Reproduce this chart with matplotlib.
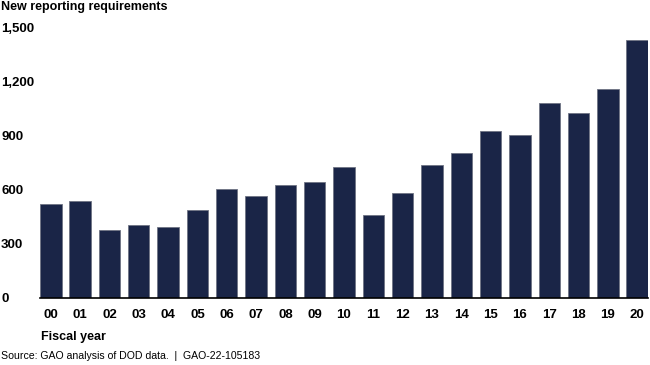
import numpy as np
import matplotlib
matplotlib.use('Agg')
import matplotlib.pyplot as plt

plt.rcParams['font.family'] = ['Liberation Sans', 'DejaVu Sans']

# fiscal years and new reporting requirements
years = ['00', '01', '02', '03', '04', '05', '06', '07', '08', '09', '10',
         '11', '12', '13', '14', '15', '16', '17', '18', '19', '20']
requirements = [520, 539, 378, 407, 393, 489, 604, 565, 626, 643, 726,
                463, 585, 737, 804, 926, 907, 1085, 1026, 1159, 1435]
yticks = [0, 300, 600, 900, 1200, 1500]

fig = plt.figure(figsize=(6.5, 3.65), dpi=100)
ax = fig.add_axes([40/650, 67/365, 608/650, 270/365])

x = np.arange(len(years))
ax.bar(x, requirements, width=0.73, color='#1a2547', edgecolor='#6f7484', linewidth=0.6)

ax.set_xlim(-0.37, 20.37)
ax.set_ylim(0, 1500)
ax.set_xticks(x)
ax.set_xticklabels(years, fontsize=9.5, fontweight='bold')
ax.set_yticks(yticks)
ax.set_yticklabels([f'{v:,}' for v in yticks], fontsize=9.5, fontweight='bold', ha='left')
ax.tick_params(axis='y', length=0, pad=28)
ax.tick_params(axis='x', length=0, pad=8)

for s in ['top', 'right', 'left']:
    ax.spines[s].set_visible(False)
ax.spines['bottom'].set_linewidth(1.2)
ax.spines['bottom'].set_color('black')

fig.text(1/650, 1 - 7/365, 'New reporting requirements', fontsize=9, fontweight='bold', va='center', ha='left')
fig.text(41/650, 1 - 337/365, 'Fiscal year', fontsize=9, fontweight='bold', va='center', ha='left')
fig.text(1/650, 1 - 356/365, 'Source: GAO analysis of DOD data.  |  GAO-22-105183', fontsize=7.6, va='center', ha='left')

fig.savefig('out.png', dpi=100)
